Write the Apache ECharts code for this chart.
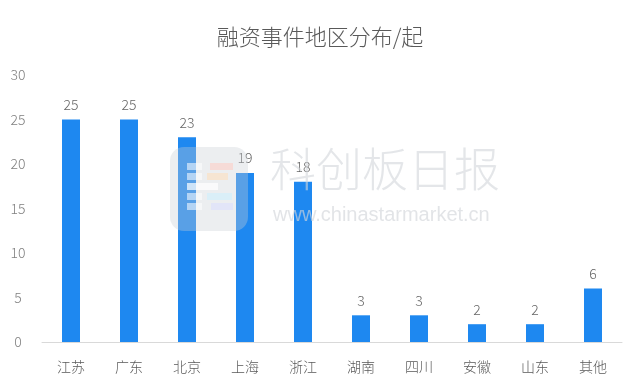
<!DOCTYPE html>
<html><head><meta charset="utf-8">
<script src="https://cdn.jsdelivr.net/npm/echarts@6/dist/echarts.min.js"></script>
<style>html,body{margin:0;padding:0;background:#fff}#c{width:640px;height:392px}</style>
</head><body><div id="c"></div>
<script>
const title = '融资事件地区分布/起';
const categories = ['江苏','广东','北京','上海','浙江','湖南','四川','安徽','山东','其他'];
const values = [25,25,23,19,18,3,3,2,2,6];
const yTicks = {min:0, max:30, interval:5};

const chart = echarts.init(document.getElementById('c'));
const font = '"Noto Sans CJK SC", "Noto Sans", sans-serif';
const wm = 100;
function blk(x,y,w,h,c){return {type:'rect',shape:{x:x,y:y,width:w,height:h},style:{fill:c},z:wm+1,silent:true};}
chart.setOption({
  animation:false,
  title:{text:title,left:'center',top:21,textStyle:{fontFamily:font,fontSize:22,fontWeight:300,color:'#595959'}},
  grid:{left:42,right:18,top:75,bottom:50},
  xAxis:{type:'category',data:categories,
    axisLine:{lineStyle:{color:'#d9d9d9'}},axisTick:{show:false},
    axisLabel:{fontFamily:font,fontSize:14,fontWeight:300,color:'#595959',margin:18}},
  yAxis:{type:'value',min:yTicks.min,max:yTicks.max,interval:yTicks.interval,
    splitLine:{show:false},axisLine:{show:false},axisTick:{show:false},
    axisLabel:{fontFamily:font,fontSize:14,fontWeight:300,color:'#808080',margin:24,align:'center'}},
  graphic:[
    {type:'rect',shape:{x:170,y:147,width:78,height:84,r:14},style:{fill:'rgba(200,205,212,0.35)'},z:wm,silent:true},
    blk(187,163,15,7,'rgba(255,255,255,0.55)'),blk(210,163,23,7,'rgba(255,200,190,0.5)'),
    blk(187,173,15,7,'rgba(255,255,255,0.55)'),blk(207,173,21,7,'rgba(255,220,180,0.5)'),
    blk(187,183,31,7,'rgba(255,255,255,0.7)'),
    blk(187,193,15,7,'rgba(255,255,255,0.55)'),blk(207,193,25,7,'rgba(200,240,255,0.5)'),
    blk(187,203,15,7,'rgba(255,255,255,0.55)'),blk(211,203,22,7,'rgba(215,220,255,0.5)'),
    {type:'text',left:270,top:146,style:{text:'科创板日报',fontFamily:font,fontSize:46,fontWeight:300,fill:'rgba(210,213,218,0.6)'},z:wm,silent:true},
    {type:'text',left:273,top:205,style:{text:'www.chinastarmarket.cn',fontFamily:'"Liberation Sans", Arial, sans-serif',fontSize:20,fill:'rgba(210,213,218,0.65)'},z:wm,silent:true}
  ],
  series:[{type:'bar',data:values,barWidth:18,
    itemStyle:{color:'#1e88f0'},
    label:{show:true,position:'top',distance:8,fontFamily:font,fontSize:14,fontWeight:300,color:'#666666'}}]
});
</script></body></html>
